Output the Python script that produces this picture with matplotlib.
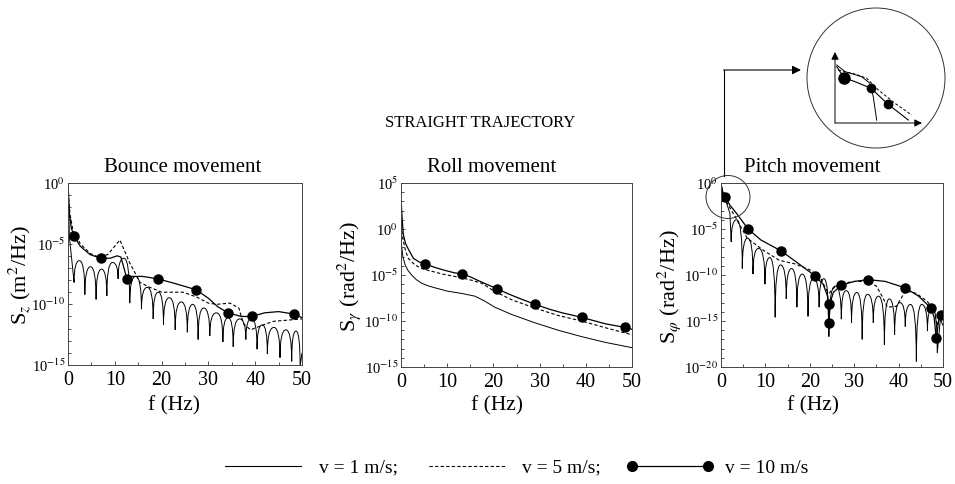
import numpy as np
import matplotlib
matplotlib.use('Agg')
import matplotlib.pyplot as plt
from matplotlib.path import Path
from matplotlib.patches import PathPatch, Ellipse
from matplotlib.lines import Line2D
from matplotlib.ticker import NullFormatter

plt.rcParams['font.family'] = ['Liberation Serif', 'DejaVu Serif']
plt.rcParams['mathtext.fontset'] = 'stix'

# all spectra are given as exponents of 10 (S = 10**e)

# --- bounce ---
b_v10_f = [0.05, 0.3, 0.7, 1.3, 2.6, 4.7, 7.0, 9.0, 10.5, 11.3, 12.6, 13.6, 16.0, 19.2, 23.0,
           27.4, 30.0, 32.0, 34.2, 37.0, 39.3, 42.0, 45.0, 48.3, 50.0]
b_v10_e = [-0.3, -2.6, -3.7, -4.4, -5.2, -5.9, -6.2, -6.2, -6.0, -6.1, -7.9, -7.7, -7.7, -7.9, -8.3,
           -8.8, -9.5, -10.2, -10.7, -11.0, -11.0, -10.7, -10.6, -10.8, -11.1]
b_mark_f = [1.3, 7.0, 12.6, 19.2, 27.4, 34.2, 39.3, 48.3]
b_mark_e = [-4.4, -6.2, -7.9, -7.9, -8.8, -10.7, -11.0, -10.8]
b_v5_f = [0.05, 0.4, 1.0, 2.6, 4.7, 6.5, 8.5, 10.0, 11.1, 12.2, 13.2, 15.4, 17.5, 20.0, 24.6,
          27.5, 30.0, 31.8, 34.6, 36.5, 37.5, 39.0, 41.0, 43.9, 47.0, 50.0]
b_v5_e = [-0.8, -2.5, -3.8, -5.0, -5.8, -6.1, -5.9, -5.2, -4.7, -5.7, -6.6, -8.2, -8.6, -9.0, -9.0,
          -9.4, -9.9, -10.0, -9.9, -10.3, -11.6, -12.1, -11.8, -11.4, -11.3, -11.2]
b_v1_start_f = [0.02, 0.3, 0.8, 1.3]
b_v1_start_e = [-0.3, -4.5, -6.3, -8.2]
b_notch_f = [1.3, 3.6, 6.0, 8.3, 10.7, 13.2, 15.7, 18.2, 20.4, 22.9, 25.5, 27.8, 30.3, 33.1,
             35.3, 38.0, 40.4, 42.6, 45.3, 47.8, 49.6]
b_notch_e = [-8.2, -9.2, -9.6, -9.3, -7.9, -9.9, -10.4, -11.2, -11.7, -12.1, -12.3, -12.9, -12.6,
             -13.1, -13.5, -12.9, -13.7, -14.1, -14.4, -14.7, -15.1]
b_peak_f = [2.45, 4.8, 7.15, 9.5, 11.95, 14.45, 16.95, 19.3, 21.65, 24.2, 26.65, 29.0, 31.7, 34.2,
            36.65, 39.2, 41.5, 44.0, 46.55, 48.7]
b_peak_e = [-6.4, -6.9, -7.1, -6.55, -6.2, -7.7, -8.6, -9.0, -9.45, -9.8, -10.0, -10.3, -10.7,
            -11.1, -11.2, -11.2, -11.7, -11.9, -12.1, -12.2]
b_v1_end_f = [49.6, 50.0]
b_v1_end_e = [-15.1, -14.0]

# --- roll ---
r_v10_f = [0.05, 0.2, 0.5, 1.0, 1.6, 2.7, 4.0, 5.2, 7.5, 9.5, 11.5, 13.3, 15.0, 16.7, 18.5, 20.8,
           23.0, 25.4, 29.1, 32.0, 34.8, 39.1, 44.2, 48.5, 50.0]
r_v10_e = [3.0, 1.5, -0.6, -1.6, -2.2, -3.2, -3.6, -3.8, -4.2, -4.5, -4.75, -4.9, -5.2, -5.6, -6.0,
           -6.5, -7.0, -7.5, -8.2, -8.7, -9.1, -9.6, -10.3, -10.7, -10.9]
r_mark_f = [5.2, 13.3, 20.8, 29.1, 39.1, 48.5]
r_mark_e = [-3.8, -4.9, -6.5, -8.2, -9.6, -10.7]
r_v5_f = [0.05, 0.2, 0.5, 1.0, 1.6, 3.0, 4.5, 5.9, 9.0, 13.1, 15.5, 17.5, 20.3, 24.0, 29.0, 34.0,
          39.1, 44.0, 50.0]
r_v5_e = [1.0, -0.3, -1.3, -2.4, -3.2, -3.9, -4.3, -4.5, -4.9, -5.3, -5.6, -5.9, -6.8, -7.7, -8.6,
          -9.4, -10.0, -10.7, -11.5]
r_v1_f = [0.03, 0.1, 0.4, 0.9, 1.5, 2.3, 3.3, 4.5, 6.0, 7.4, 10.0, 13.1, 16.0, 18.0, 20.3, 24.0,
          29.0, 34.0, 39.1, 44.0, 50.0]
r_v1_e = [2.5, -1.7, -3.0, -3.9, -4.5, -5.0, -5.5, -5.9, -6.2, -6.4, -6.75, -7.0, -7.3, -7.8, -8.5,
          -9.3, -10.2, -11.0, -11.7, -12.3, -12.9]

# --- pitch ---
p_v10_f = [0.05, 0.4, 0.9, 2.0, 3.5, 6.1, 9.0, 13.6, 17.0, 21.2, 23.0, 24.0, 24.3, 24.6, 25.3,
           27.1, 30.0, 33.2, 37.0, 41.5, 44.5, 47.3, 48.0, 48.5, 49.0, 49.6, 50.0]
p_v10_e = [-0.2, -1.0, -1.5, -2.4, -3.3, -5.0, -6.2, -7.4, -8.6, -10.1, -11.0, -12.3, -15.3, -13.0,
           -11.9, -11.1, -10.7, -10.5, -10.7, -11.4, -12.3, -13.6, -14.6, -17.0, -15.0, -14.4, -14.0]
p_mark_f = [0.9, 6.1, 13.6, 21.2, 24.3, 24.4, 27.1, 33.2, 41.5, 47.3, 48.5, 49.6]
p_mark_e = [-1.5, -5.0, -7.4, -10.1, -13.2, -15.2, -11.1, -10.5, -11.4, -13.6, -16.9, -14.4]
p_v5_f = [0.05, 0.5, 1.5, 3.0, 5.9, 9.5, 13.1, 16.7, 20.3, 22.5, 23.6, 24.3, 25.8, 27.5, 30.0,
          33.0, 35.0, 36.5, 37.5, 39.5, 41.6, 44.0, 46.5, 48.0, 48.7, 49.5, 50.0]
p_v5_e = [-0.3, -1.3, -2.3, -3.5, -6.0, -7.3, -8.4, -8.8, -9.5, -10.4, -11.5, -12.0, -11.2, -10.9,
          -10.7, -10.7, -11.2, -12.5, -13.5, -13.4, -11.7, -12.0, -12.9, -13.8, -15.5, -14.2, -13.9]
p_v1_start_f = [0.02, 0.6, 1.4, 2.0, 2.3]
p_v1_start_e = [-0.2, -1.4, -2.4, -3.3, -6.4]
p_notch_f = [2.3, 4.8, 7.2, 9.9, 12.2, 14.7, 17.1, 19.6, 22.1, 24.3, 27.1, 29.4, 31.8, 34.3, 36.8,
             39.1, 41.5, 44.0, 46.5, 48.7]
p_notch_e = [-6.4, -9.3, -9.9, -11.0, -14.6, -12.6, -13.5, -14.5, -13.5, -16.7, -14.8, -15.2,
             -17.0, -15.2, -17.6, -16.5, -15.6, -19.4, -16.1, -18.5]
p_peak_f = [3.5, 6.0, 8.5, 11.0, 13.4, 15.9, 18.3, 20.8, 23.2, 25.7, 28.2, 30.6, 33.0, 35.5, 37.9,
            40.3, 42.7, 45.2, 47.6]
p_peak_e = [-4.0, -6.0, -7.1, -8.1, -8.9, -9.3, -9.9, -10.4, -10.4, -11.2, -11.7, -11.9, -12.1,
            -12.3, -12.6, -13.0, -13.2, -13.2, -13.6]
p_v1_end_f = [48.7, 49.4, 50.0]
p_v1_end_e = [-18.5, -14.8, -15.5]

# --- zoom sketch (schematic, unit box) ---
ins_v1_x = [0.02, 0.115, 0.307, 0.402, 0.44, 0.479]
ins_v1_y = [0.817, 0.723, 0.652, 0.559, 0.37, 0.04]
ins_v10_x = [0.02, 0.103, 0.23, 0.414, 0.606, 0.843]
ins_v10_y = [0.793, 0.638, 0.582, 0.489, 0.268, 0.042]
ins_v5_x = [0.038, 0.23, 0.364, 0.498, 0.69, 0.882]
ins_v5_y = [0.746, 0.69, 0.63, 0.465, 0.277, 0.113]

labels = ['v = 1 m/s;', 'v = 5 m/s;', 'v = 10 m/s']
DOT = (0, (3, 2))
W, H = 955, 484

fig = plt.figure(figsize=(9.55, 4.84), dpi=100)


def px_axes(x0, y0, x1, y1):
    return fig.add_axes([x0 / W, 1 - y1 / H, (x1 - x0) / W, (y1 - y0) / H])


def p10(e):
    return 10.0 ** np.asarray(e, dtype=float)


def lobes(ax, sf, se, nf, ne, pf, pe, ef, ee):
    # arches between notches, drawn as quadratic curves on the log axis
    verts = list(zip(sf, p10(se)))
    codes = [Path.MOVETO] + [Path.LINETO] * (len(sf) - 1)
    for i in range(len(pf)):
        top = 10.0 ** pe[i]
        verts += [(nf[i], top), (pf[i], top), (nf[i + 1], top), (nf[i + 1], 10.0 ** ne[i + 1])]
        codes += [Path.CURVE3] * 4
    verts += list(zip(ef[1:], p10(ee[1:])))
    codes += [Path.LINETO] * (len(ef) - 1)
    ax.add_patch(PathPatch(Path(verts, codes), fill=False, lw=0.7, edgecolor='black'))


def style(ax, ymin, ymax):
    ax.set_yscale('log')
    ax.set_xlim(0, 50)
    ax.set_ylim(10.0 ** ymin, 10.0 ** ymax)
    ax.set_xticks(range(0, 51, 10))
    ax.set_xticks(range(5, 50, 10), minor=True)
    major = list(range(ymin, ymax + 1, 5))
    ax.set_yticks([10.0 ** e for e in major], ['10$^{%d}$' % e for e in major])
    ax.set_yticks([10.0 ** e for e in range(ymin, ymax + 1)], minor=True)
    ax.yaxis.set_minor_formatter(NullFormatter())
    ax.tick_params(which='both', direction='in', width=0.6, color='#333333')
    ax.tick_params(which='major', length=3)
    ax.tick_params(which='minor', length=2)
    ax.tick_params(axis='x', labelsize=14.5, pad=4)
    ax.tick_params(axis='y', labelsize=10.5, pad=2)
    for s in ax.spines.values():
        s.set_linewidth(0.7)
        s.set_color('#444444')


def spectra(ax, f10, e10, mf, me, f5, e5):
    ax.plot(f10, p10(e10), color='black', lw=0.9)
    ax.plot(mf, p10(me), 'o', color='black', ms=6.5)
    ax.plot(f5, p10(e5), color='black', lw=0.8, ls=DOT)


ax1 = px_axes(68, 183, 302, 365)
style(ax1, -15, 0)
lobes(ax1, b_v1_start_f, b_v1_start_e, b_notch_f, b_notch_e, b_peak_f, b_peak_e, b_v1_end_f, b_v1_end_e)
spectra(ax1, b_v10_f, b_v10_e, b_mark_f, b_mark_e, b_v5_f, b_v5_e)

ax2 = px_axes(401, 183, 632, 367)
style(ax2, -15, 5)
ax2.plot(r_v1_f, p10(r_v1_e), color='black', lw=0.7)
spectra(ax2, r_v10_f, r_v10_e, r_mark_f, r_mark_e, r_v5_f, r_v5_e)

# a little narrower than the scan so the last tick label stays inside the image
ax3 = px_axes(721, 183, 943, 367)
style(ax3, -20, 0)
lobes(ax3, p_v1_start_f, p_v1_start_e, p_notch_f, p_notch_e, p_peak_f, p_peak_e, p_v1_end_f, p_v1_end_e)
spectra(ax3, p_v10_f, p_v10_e, p_mark_f, p_mark_e, p_v5_f, p_v5_e)

# texts
fig.text(480 / W, 1 - 123 / H, 'STRAIGHT TRAJECTORY', ha='center', va='center', fontsize=12)
for x, t in [(183, 'Bounce movement'), (492, 'Roll movement'), (812, 'Pitch movement')]:
    fig.text(x / W, 1 - 167 / H, t, ha='center', va='center', fontsize=15)
for x in [174, 497, 813]:
    fig.text(x / W, 1 - 406 / H, 'f (Hz)', ha='center', va='center', fontsize=15.5)
for x, y, t in [(20, 275, 'S$_z$ (m$^2$/Hz)'), (349, 276, 'S$_\\gamma$ (rad$^2$/Hz)'),
                (669, 287, 'S$_\\varphi$ (rad$^2$/Hz)')]:
    fig.text(x / W, 1 - y / H, t, ha='center', va='center', rotation=90, fontsize=16)

# zoom sketch
ins = px_axes(835, 52, 922, 123)
ins.set_xlim(0, 1)
ins.set_ylim(0, 1)
ins.axis('off')
arrow = dict(arrowstyle='-|>', lw=0.7, color='black', mutation_scale=11, shrinkA=0, shrinkB=0)
ins.annotate('', xy=(0, 1), xytext=(0, 0), arrowprops=arrow, annotation_clip=False)
ins.annotate('', xy=(1, 0), xytext=(0, 0), arrowprops=arrow, annotation_clip=False)
ins.plot(ins_v1_x, ins_v1_y, color='black', lw=0.7)
ins.plot(ins_v5_x, ins_v5_y, color='black', lw=0.7, ls=DOT)
ins.plot(ins_v10_x, ins_v10_y, color='black', lw=0.8)
ins.plot(ins_v10_x[1:2], ins_v10_y[1:2], 'o', color='black', ms=8)
ins.plot(ins_v10_x[3:5], ins_v10_y[3:5], 'o', color='black', ms=6)

ov = fig.add_axes([0, 0, 1, 1])
ov.set_xlim(0, W)
ov.set_ylim(H, 0)
ov.axis('off')
ov.add_patch(Ellipse((876, 78), 138, 140, fill=False, lw=0.7, edgecolor='#333333'))
ov.add_patch(Ellipse((728, 197), 44, 43, fill=False, lw=0.7, edgecolor='#333333'))
ov.plot([724, 724], [176, 70], color='black', lw=0.8)
ov.annotate('', xy=(801, 70), xytext=(723.6, 70),
            arrowprops=dict(arrowstyle='-|>', lw=0.8, color='black', mutation_scale=13,
                            shrinkA=0, shrinkB=0))

handles = [Line2D([], [], color='black', lw=0.8),
           Line2D([], [], color='black', lw=0.8, ls=DOT),
           Line2D([], [], color='black', lw=0.9, marker='o', ms=7)]
fig.legend(handles, labels, ncol=3, loc='center', bbox_to_anchor=(514 / W, 1 - 468 / H),
           frameon=False, fontsize=14, handlelength=4.5, handletextpad=0.6,
           columnspacing=1.3, numpoints=2)

fig.savefig('out.png', dpi=100)
